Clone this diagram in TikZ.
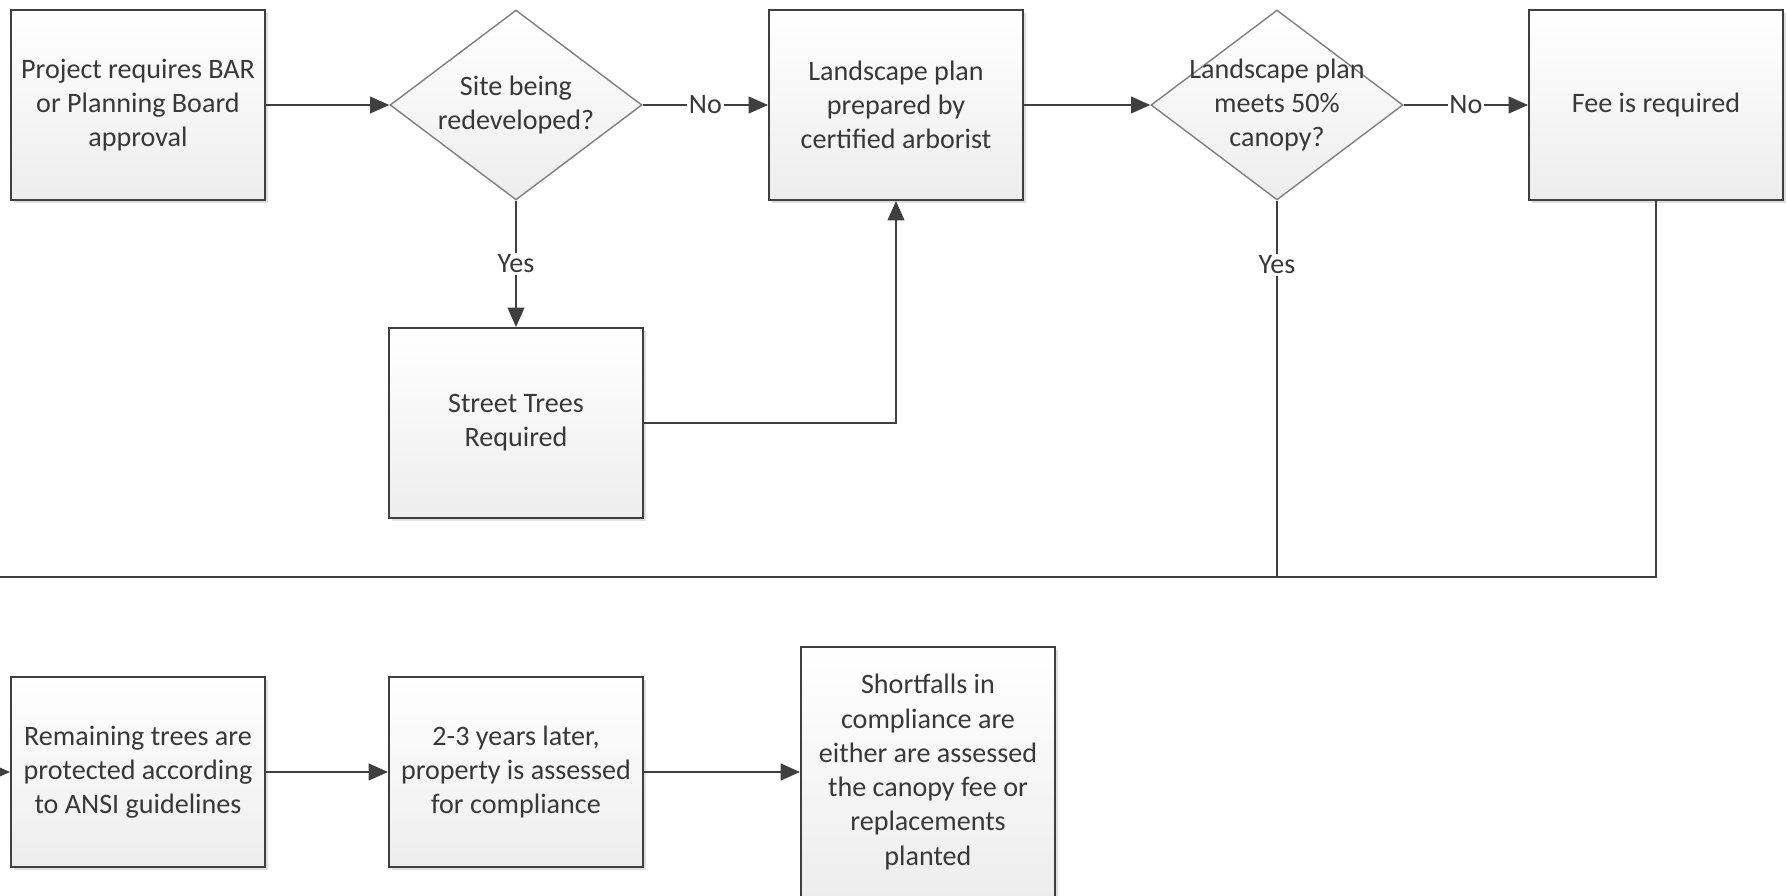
\documentclass[tikz,border=0pt]{standalone}
\usepackage{fontspec}
\setmainfont{Carlito}
\usepackage{tikz}
\usetikzlibrary{arrows.meta,shapes.geometric,shadows}
\definecolor{boxline}{HTML}{3F3F3F}
\definecolor{diamline}{HTML}{7F7F7F}
\definecolor{boxtext}{HTML}{383838}

\begin{document}
\begin{tikzpicture}[x=0.02cm,y=-0.02cm,
  font=\fontsize{16}{19.5}\selectfont,
  stepbox/.style={draw=boxline,line width=1.1pt,top color=white,bottom color=black!7,
    drop shadow={shadow xshift=1.6pt,shadow yshift=-1.6pt,fill=black!25,opacity=0.5},
    minimum width=5.08cm,minimum height=3.8cm,align=center,text=boxtext},
  decision/.style={diamond,draw=diamline,line width=0.8pt,top color=white,bottom color=black!7,
    minimum width=5.04cm,minimum height=3.8cm,inner sep=0pt,
    label={[align=center,text=boxtext]center:#1}},
  conn/.style={draw=boxline,line width=1.1pt,-{Triangle[length=11pt,width=9.5pt]}},
  plain/.style={draw=boxline,line width=1.1pt},
  lbl/.style={fill=white,inner sep=1pt,text=boxtext}]
  \useasboundingbox (0,0) rectangle (1786,896);

  % top row
  \node[stepbox] (approval) at (138,105) {Project requires BAR\\or Planning Board\\approval};
  \node[decision={Site being\\redeveloped?}] (redev) at (516,105) {};
  \node[stepbox] (plan) at (896,105) {Landscape plan\\prepared by\\certified arborist};
  \node[decision={Landscape plan\\meets 50\%\\canopy?}] (canopy) at (1277,105) {};
  \node[stepbox] (fee) at (1656,105) {Fee is required};
  \node[stepbox] (street) at (516,423) {Street Trees\\Required};

  % bottom row
  \node[stepbox] (protect) at (138,772) {Remaining trees are\\protected according\\to ANSI guidelines};
  \node[stepbox] (assess) at (516,772) {2-3 years later,\\property is assessed\\for compliance};
  \node[stepbox,minimum height=5cm] (shortfall) at (928,772) {Shortfalls in\\compliance are\\either are assessed\\the canopy fee or\\replacements\\planted};

  \coordinate (bus) at (0,577);
  \coordinate (feed) at (-40,772);

  \draw[conn] (approval) -- (redev);
  \draw[conn] (redev) -- node[lbl] {No} (plan);
  \draw[conn] (redev) -- node[lbl] {Yes} (street);
  \draw[conn] (street) -| (plan);
  \draw[conn] (plan) -- (canopy);
  \draw[conn] (canopy) -- node[lbl] {No} (fee);
  \draw[plain] (canopy.south) -- node[lbl,pos=0.17] {Yes} (canopy.south |- bus);
  \draw[plain] (fee.south) |- (bus);
  \draw[conn] (feed) -- (protect);
  \draw[conn] (protect) -- (assess);
  \draw[conn] (assess) -- (shortfall);
\end{tikzpicture}
\end{document}
